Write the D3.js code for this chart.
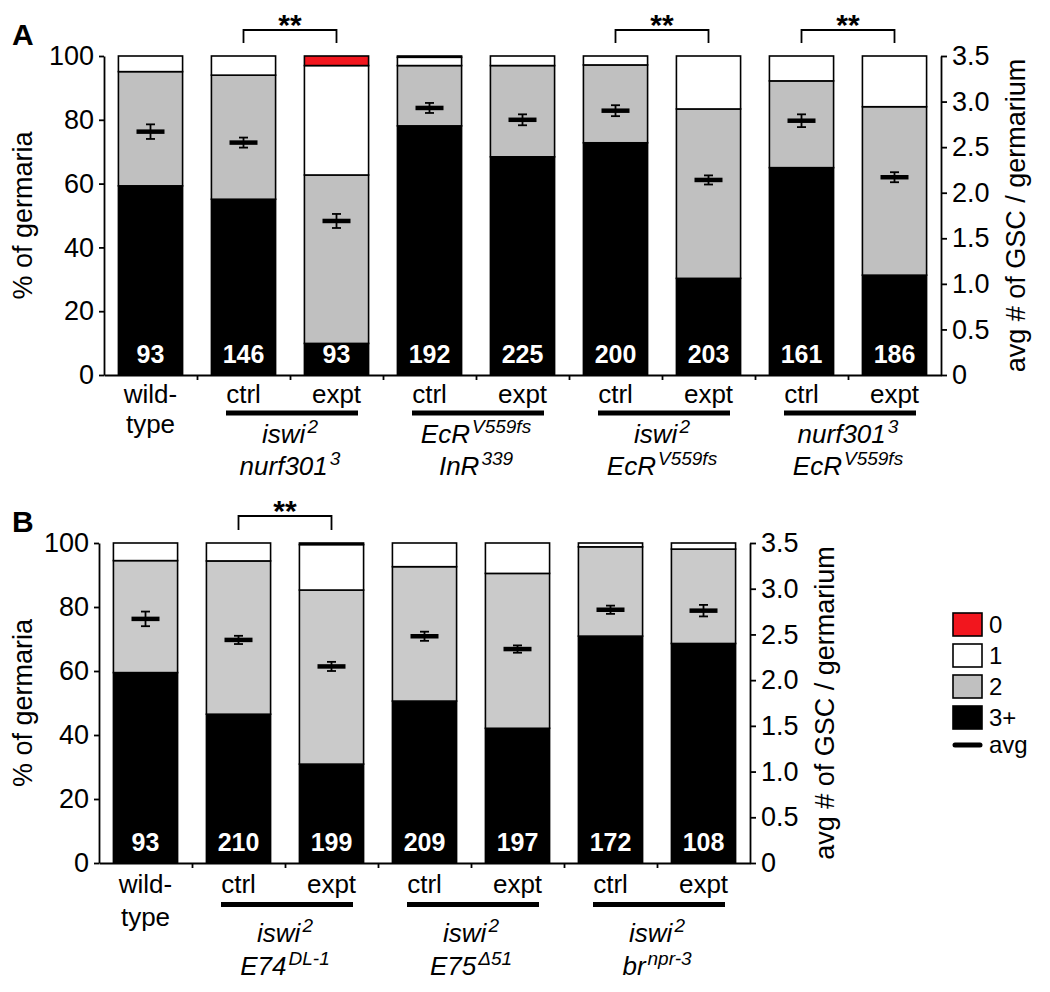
<!DOCTYPE html>
<html><head><meta charset="utf-8">
<script src="https://cdn.jsdelivr.net/npm/d3@7"></script>
<style>
body{margin:0;background:#fff}
svg{display:block}
text{font-family:"Liberation Sans",Arial,Helvetica,sans-serif}
</style>
</head><body>
<svg id="fig" width="1050" height="992"></svg>
<script>
const keys=["0","1","2","3+"];
const gscTicks=[0,0.5,1,1.5,2,2.5,3,3.5];
const pctTicks=[0,20,40,60,80,100];

// panel A
const labelsA=["wild-\ntype","ctrl","expt","ctrl","expt","ctrl","expt","ctrl","expt"];
const nA=[93,146,93,192,225,200,203,161,186];
const zeroA=[0,0,3.0,0.4,0,0,0,0,0];
const oneA=[4.9,6.0,34.3,2.6,3.0,2.8,16.6,7.8,15.9];
const twoA=[35.8,38.9,52.8,18.9,28.6,24.4,53.1,27.2,52.8];
const threeA=[59.3,55.1,9.9,78.1,68.4,72.8,30.3,65.0,31.3];
const avgA=[2.67,2.55,1.69,2.93,2.80,2.90,2.14,2.79,2.17];
const errA=[0.08,0.055,0.077,0.055,0.06,0.06,0.05,0.07,0.055];
const groupsA=[
  {bars:[1,2],lines:[["iswi","2"],["nurf301","3"]]},
  {bars:[3,4],lines:[["EcR","V559fs"],["InR","339"]]},
  {bars:[5,6],lines:[["iswi","2"],["EcR","V559fs"]]},
  {bars:[7,8],lines:[["nurf301","3"],["EcR","V559fs"]]}
];
const sigA=[[1,2],[5,6],[7,8]];

// panel B
const labelsB=["wild-\ntype","ctrl","expt","ctrl","expt","ctrl","expt"];
const nB=[93,210,199,209,197,172,108];
const zeroB=[0,0,0.5,0,0,0,0];
const oneB=[5.5,5.6,14.2,7.4,9.5,1.2,1.9];
const twoB=[35.0,47.9,54.4,42.0,48.4,27.9,29.5];
const threeB=[59.5,46.5,30.9,50.6,42.1,70.9,68.6];
const avgB=[2.67,2.44,2.15,2.48,2.34,2.77,2.76];
const errB=[0.08,0.045,0.05,0.05,0.04,0.045,0.063];
const groupsB=[
  {bars:[1,2],lines:[["iswi","2"],["E74","DL-1"]]},
  {bars:[3,4],lines:[["iswi","2"],["E75","\u039451"]]},
  {bars:[5,6],lines:[["iswi","2"],["br","npr-3"]]}
];
const sigB=[[1,2]];

const svg=d3.select("#fig");
const red="#f2161e";

function drawPanel(p){
  const n=p.n.length;
  const bw=93;
  const right=p.left+n*bw;
  const rows=p.n.map((d,i)=>({i:i,"0":p.zero[i],"1":p.one[i],"2":p.two[i],"3+":p.three[i]}));
  const series=d3.stack().keys(["3+","2","1","0"])(rows);
  const color=d3.scaleOrdinal().domain(keys).range([red,"#fff",p.gray,"#000"]);

  const x=d3.scaleBand().domain(d3.range(n)).range([p.left,right]).paddingInner(0.31).paddingOuter(0.155);
  const y=d3.scaleLinear().domain([0,100]).range([p.bottom,p.top]);
  const y2=d3.scaleLinear().domain([0,3.5]).range([p.bottom,p.top]);
  const xt=d3.scaleLinear().domain([0,n]).range([p.left,right]);
  const g=svg.append("g");

  g.selectAll("g.seg").data(series).enter().append("g")
    .attr("fill",s=>color(s.key))
    .selectAll("rect").data(s=>s.filter(d=>d[1]-d[0]>0)).enter().append("rect")
    .attr("x",d=>x(d.data.i))
    .attr("width",x.bandwidth())
    .attr("y",d=>y(d[1]))
    .attr("height",d=>y(d[0])-y(d[1]))
    .attr("stroke","#000").attr("stroke-width",1.6);

  // counts
  g.selectAll("text.cnt").data(p.n).enter().append("text")
    .attr("x",(d,i)=>x(i)+x.bandwidth()/2)
    .attr("y",p.bottom-12)
    .attr("text-anchor","middle").attr("fill","#fff")
    .attr("font-weight","bold").attr("font-size",25)
    .text(d=>d);

  // avg + error bars
  const cx=i=>x(i)+x.bandwidth()/2;
  p.avg.forEach((a,i)=>{
    const e=p.err[i];
    g.append("line").attr("x1",cx(i)).attr("x2",cx(i)).attr("y1",y2(a-e)).attr("y2",y2(a+e)).attr("stroke","#000").attr("stroke-width",1.8);
    [a-e,a+e].forEach(v=>g.append("line").attr("x1",cx(i)-4.5).attr("x2",cx(i)+4.5).attr("y1",y2(v)).attr("y2",y2(v)).attr("stroke","#000").attr("stroke-width",1.8));
    g.append("line").attr("x1",cx(i)-14).attr("x2",cx(i)+14).attr("y1",y2(a)).attr("y2",y2(a)).attr("stroke","#000").attr("stroke-width",4.5);
  });

  // axes
  const axL=g.append("g").attr("transform",`translate(${p.left},0)`)
    .call(d3.axisLeft(y).tickValues(pctTicks).tickSize(5).tickSizeOuter(0).tickPadding(5));
  const axR=g.append("g").attr("transform",`translate(${right},0)`)
    .call(d3.axisRight(y2).tickValues(gscTicks).tickSize(6).tickSizeOuter(0).tickPadding(5)
      .tickFormat(v=>v===0?"0":d3.format(".1f")(v)));
  const axB=g.append("g").attr("transform",`translate(0,${p.bottom})`)
    .call(d3.axisBottom(xt).tickValues(d3.range(1,n)).tickSize(5).tickSizeOuter(0).tickFormat(""));
  [axL,axR,axB].forEach(a=>{
    a.selectAll("path,line").attr("stroke","#000").attr("stroke-width",1.8);
    a.selectAll("text").attr("font-size",27).attr("font-family",null).attr("fill","#000");
  });

  // axis titles
  g.append("text").attr("transform",`translate(32,${(p.top+p.bottom)/2}) rotate(-90)`)
    .attr("text-anchor","middle").attr("font-size",27).text("% of germaria");
  g.append("text").attr("transform",`translate(${right+84},${(p.top+p.bottom)/2}) rotate(-90)`)
    .attr("text-anchor","middle").attr("font-size",27).text("avg # of GSC / germarium");

  // x labels
  p.labels.forEach((l,i)=>{
    const parts=l.split("\n");
    parts.forEach((t,k)=>g.append("text").attr("x",cx(i)).attr("y",k===0?p.lab1:p.lab2)
      .attr("text-anchor","middle").attr("font-size",26).text(t));
  });

  // genotype groups
  p.groups.forEach(gr=>{
    const mid=(cx(gr.bars[0])+cx(gr.bars[1]))/2+2;
    g.append("line").attr("x1",mid-66).attr("x2",mid+66).attr("y1",p.ul).attr("y2",p.ul)
      .attr("stroke","#000").attr("stroke-width",5);
    gr.lines.forEach((ln,k)=>{
      const t=g.append("text").attr("x",mid-2).attr("y",k===0?p.gl1:p.gl2)
        .attr("text-anchor","middle").attr("font-size",26).attr("font-style","italic");
      t.append("tspan").text(ln[0]);
      t.append("tspan").attr("dy",-10).attr("font-size",19).attr("dx",2).text(ln[1]);
    });
  });

  // significance
  p.sig.forEach(s=>{
    const x1=cx(s[0]),x2=cx(s[1]);
    g.append("path").attr("d",`M${x1},${p.brB}V${p.brT}H${x2}V${p.brB}`)
      .attr("fill","none").attr("stroke","#000").attr("stroke-width",1.8);
    g.append("text").attr("x",(x1+x2)/2).attr("y",p.brT+5).attr("text-anchor","middle")
      .attr("font-weight","bold").attr("font-size",30).text("**");
  });

  g.append("text").attr("x",12).attr("y",p.letterY).attr("font-weight","bold").attr("font-size",30).text(p.letter);
}

drawPanel({letter:"A",letterY:45,left:104,top:56,bottom:375,gray:"#c0c0c0",
  labels:labelsA,n:nA,zero:zeroA,one:oneA,two:twoA,three:threeA,avg:avgA,err:errA,groups:groupsA,sig:sigA,
  lab1:403,lab2:433,ul:413,gl1:443,gl2:475,brT:30,brB:43});
drawPanel({letter:"B",letterY:532,left:99,top:543,bottom:863,gray:"#cacaca",
  labels:labelsB,n:nB,zero:zeroB,one:oneB,two:twoB,three:threeB,avg:avgB,err:errB,groups:groupsB,sig:sigB,
  lab1:893,lab2:926,ul:904.5,gl1:942,gl2:975,brT:516,brB:530});

// legend
const legColors=[red,"#fff","#c0c0c0","#000"];
const leg=svg.append("g").attr("transform","translate(953,613)");
keys.forEach((k,i)=>{
  leg.append("rect").attr("x",0).attr("y",i*31).attr("width",29).attr("height",23)
    .attr("fill",legColors[i]).attr("stroke","#000").attr("stroke-width",1.6);
  leg.append("text").attr("x",36).attr("y",i*31+20).attr("font-size",24).text(k);
});
leg.append("line").attr("x1",2).attr("x2",27).attr("y1",132).attr("y2",132)
  .attr("stroke","#000").attr("stroke-width",5).attr("stroke-linecap","round");
leg.append("text").attr("x",36).attr("y",140).attr("font-size",24).text("avg");
</script>
</body></html>
